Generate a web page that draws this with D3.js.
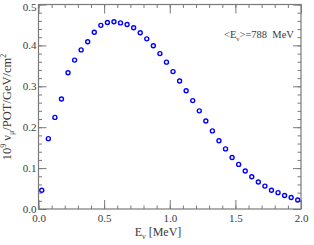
<!DOCTYPE html>
<html><head><meta charset="utf-8">
<script src="https://cdn.jsdelivr.net/npm/d3@7"></script>
<style>html,body{margin:0;padding:0;background:#fff;}</style>
</head><body>
<script>
const energies = [0.025,0.075,0.125,0.175,0.225,0.275,0.325,0.375,0.425,0.475,0.525,0.575,0.625,0.675,0.725,0.775,0.825,0.875,0.925,0.975,1.025,1.075,1.125,1.175,1.225,1.275,1.325,1.375,1.425,1.475,1.525,1.575,1.625,1.675,1.725,1.775,1.825,1.875,1.925,1.975];
const flux = [0.046,0.172,0.224,0.269,0.333,0.364,0.389,0.409,0.432,0.449,0.456,0.458,0.455,0.451,0.443,0.431,0.416,0.399,0.380,0.359,0.336,0.313,0.289,0.265,0.240,0.215,0.191,0.167,0.147,0.126,0.109,0.093,0.079,0.066,0.056,0.046,0.040,0.033,0.028,0.022];
const xMajorTicks = [0, 0.5, 1.0, 1.5, 2.0];
const yMajorTicks = [0, 0.1, 0.2, 0.3, 0.4, 0.5];
const xMinorTicks = d3.range(0, 21).map(i => i / 10);
const yMinorTicks = d3.range(0, 26).map(i => i / 50);

const W = 314, H = 245;
const L = 38.5, R = 301, T = 4.5, B = 209;
const svg = d3.select("body").append("svg").attr("width", W).attr("height", H);
svg.append("rect").attr("width", W).attr("height", H).attr("fill", "#fff");

const x = d3.scaleLinear().domain([0, 2]).range([L, R]);
const y = d3.scaleLinear().domain([0, 0.5]).range([B, T]);

const fontFam = "'Liberation Serif', 'DejaVu Serif', serif";
const axisCol = "#7a7a7a";
const textCol = "#3a3a3a";
const fmt = d3.format(".1f");

function styleAxis(g) {
  g.select(".domain").remove();
  g.selectAll(".tick line").attr("stroke", axisCol).attr("stroke-width", 1);
  g.selectAll(".tick text").attr("fill", textCol).style("font-family", fontFam).style("font-size", "11px");
}

// minor ticks
svg.append("g").attr("transform", `translate(0,${B})`).call(d3.axisBottom(x).tickValues(xMinorTicks).tickSize(-3.5).tickFormat("")).call(styleAxis);
svg.append("g").attr("transform", `translate(0,${T})`).call(d3.axisTop(x).tickValues(xMinorTicks).tickSize(-3.5).tickFormat("")).call(styleAxis);
svg.append("g").attr("transform", `translate(${L},0)`).call(d3.axisLeft(y).tickValues(yMinorTicks).tickSize(-3.5).tickFormat("")).call(styleAxis);
svg.append("g").attr("transform", `translate(${R},0)`).call(d3.axisRight(y).tickValues(yMinorTicks).tickSize(-3.5).tickFormat("")).call(styleAxis);
// major ticks
svg.append("g").attr("transform", `translate(0,${B})`).call(d3.axisBottom(x).tickValues(xMajorTicks).tickSize(-9).tickPadding(5).tickFormat(fmt)).call(styleAxis);
svg.append("g").attr("transform", `translate(0,${T})`).call(d3.axisTop(x).tickValues(xMajorTicks).tickSize(-9).tickFormat("")).call(styleAxis);
svg.append("g").attr("transform", `translate(${L},0)`).call(d3.axisLeft(y).tickValues(yMajorTicks).tickSize(-8).tickPadding(2).tickFormat(fmt)).call(styleAxis)
  .selectAll(".tick text").filter(d => d === 0.5).attr("dy", "0.5em");
svg.append("g").attr("transform", `translate(${R},0)`).call(d3.axisRight(y).tickValues(yMajorTicks).tickSize(-8).tickFormat("")).call(styleAxis);

// frame
svg.append("rect").attr("x", L).attr("y", T).attr("width", R - L).attr("height", B - T)
  .attr("fill", "none").attr("stroke", axisCol).attr("stroke-width", 1.2);

// points
svg.append("g").selectAll("circle").data(energies).join("circle")
  .attr("cx", d => x(d)).attr("cy", (d, i) => y(flux[i])).attr("r", 2)
  .attr("fill", "none").attr("stroke", "#0000ff").attr("stroke-width", 1.4);

// x label
const xl = svg.append("text").attr("x", 158).attr("y", 236).attr("text-anchor", "middle")
  .attr("fill", textCol).style("font-family", fontFam).style("font-size", "12px");
xl.append("tspan").text("E");
xl.append("tspan").attr("dy", 2.5).style("font-size", "8px").text("ν");
xl.append("tspan").attr("dy", -2.5).text(" [MeV]");

// y label
const yl = svg.append("text").attr("transform", "translate(11,107) rotate(-90)").attr("text-anchor", "middle")
  .attr("fill", textCol).style("font-family", fontFam).style("font-size", "12.5px");
yl.append("tspan").text("10");
yl.append("tspan").attr("dy", -5).style("font-size", "8px").text("9");
yl.append("tspan").attr("dy", 5).text(" ν");
yl.append("tspan").attr("dy", 2.5).style("font-size", "8px").text("μ");
yl.append("tspan").attr("dy", -2.5).text("/POT/GeV/cm");
yl.append("tspan").attr("dy", -5).style("font-size", "8px").text("2");

// annotation
const an = svg.append("text").attr("x", 224).attr("y", 38)
  .attr("fill", textCol).style("font-family", fontFam).style("font-size", "10.5px");
an.append("tspan").text("<E");
an.append("tspan").attr("dy", 2.5).style("font-size", "7px").text("ν");
an.append("tspan").attr("dy", -2.5).text(">=788  MeV").attr("xml:space", "preserve").style("white-space", "pre");
</script>
</body></html>
